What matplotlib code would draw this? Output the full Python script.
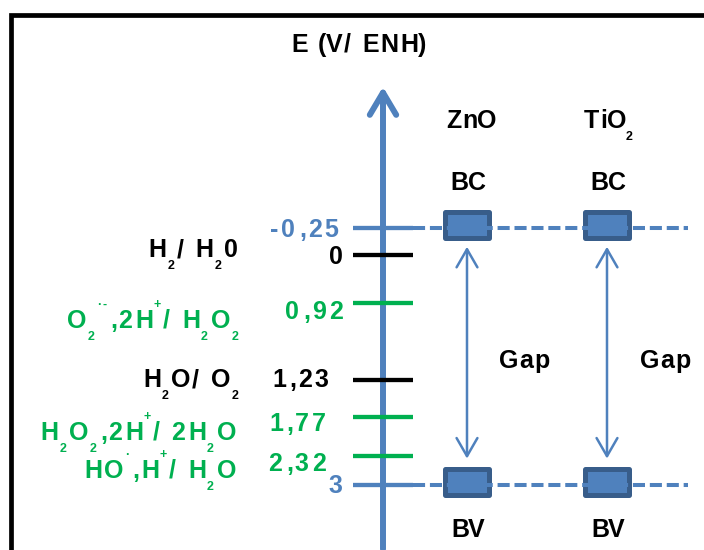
import numpy as np
import matplotlib
matplotlib.use('Agg')
import matplotlib.pyplot as plt
from matplotlib.transforms import Affine2D
from matplotlib.patches import FancyArrowPatch
from matplotlib.path import Path
from matplotlib.font_manager import FontProperties, findfont, get_font

# redox levels, V / ENH
level_values = [-0.25, 0, 0.92, 1.23, 1.77, 2.32, 3]
level_labels = ['-0,25', '0', '0,92', '1,23', '1,77', '2,32', '3']
# couples as (text, kind) pieces: n = normal, sub / sup
couples = [
    None,
    [('H', 'n'), ('2', 'sub'), ('/ H', 'n'), ('2', 'sub'), ('0', 'n')],
    [('O', 'n'), ('2', 'sub'), ('·-', 'sup'), (',2H', 'n'), ('+', 'sup'),
     ('/ H', 'n'), ('2', 'sub'), ('O', 'n'), ('2', 'sub')],
    [('H', 'n'), ('2', 'sub'), ('O/ O', 'n'), ('2', 'sub')],
    [('H', 'n'), ('2', 'sub'), ('O', 'n'), ('2', 'sub'), (',2H', 'n'), ('+', 'sup'),
     ('/ 2H', 'n'), ('2', 'sub'), ('O', 'n')],
    [('HO', 'n'), ('·', 'sup'), (',H', 'n'), ('+', 'sup'), ('/ H', 'n'), ('2', 'sub'), ('O', 'n')],
    None,
]
materials = [[('ZnO', 'n')], [('TiO', 'n'), ('2', 'sub')]]
bc_value = -0.25
bv_value = 3

# schematic (non linear) energy axis
scale_E = [-2.36, -0.25, 0, 0.92, 1.23, 1.77, 2.32, 3, 4.52]
scale_px = [0, 228, 255, 303, 380, 417, 456, 485, 550]

blue = '#4f81bd'
dark = '#385d8a'
green = '#00b050'
level_colors = [blue, 'black', green, 'black', green, green, blue]
label_right = [338, 342, 342, 328, 325, 325, 342]
label_dy = [9, 9, 16, 7, 14, 15, 8]
couple_right = [None, 237, 238, 238, 235, 235, None]
couple_dy = [None, 2, 25, 7, 23, 22, None]
mat_x = [467, 607]
mat_label_x = [470, 608]
gap_label_x = [523, 664]

FP = FontProperties(family='Liberation Sans', weight='bold')
font = get_font(findfont(FP))


def glyph_metrics(ch, size):
    font.set_size(size, 100)
    g = font.load_char(ord(ch))
    return g.linearHoriAdvance / 65536, g.horiBearingX / 64


def spaced(x, y, parts, color, trans, ha='left', size=18, track=0.0):
    chars = []
    for s, kind in parts:
        fs = size if kind == 'n' else 9
        dy = {'n': 0, 'sub': 12, 'sup': -20}[kind]
        for ch in s:
            adv, lsb = glyph_metrics(ch, fs)
            chars.append((ch, fs, dy, adv, lsb))
    total = sum(c[3] for c in chars) + track * (len(chars) - 1)
    pen = {'left': 0, 'center': -total / 2, 'right': -total}[ha]
    for ch, fs, dy, adv, lsb in chars:
        if ch != ' ':
            ax.text(x, y, ch, color=color, fontsize=fs, family='Liberation Sans',
                    weight='bold', ha='left', va='baseline',
                    transform=trans + Affine2D().translate(pen + lsb, -dy))
        pen += adv + track


fig = plt.figure(figsize=(7.04, 5.5), dpi=100)
ax = fig.add_axes([0, 0, 1, 1])
ax.set_xlim(0, 704)
ax.set_yscale('function', functions=(lambda e: np.interp(e, scale_E, scale_px),
                                     lambda p: np.interp(p, scale_px, scale_E)))
ax.set_ylim(scale_E[-1], scale_E[0])
ax.axis('off')

# pixel coordinates, origin top left
pix = Affine2D().scale(1, -1).translate(0, 550)

# frame
ax.plot([10.5, 10.5, 704], [550, 14.5, 14.5], color='black', lw=3.4,
        solid_joinstyle='miter', transform=pix, clip_on=False)

# energy axis
ax.add_patch(FancyArrowPatch((383, 552), (383, 84), transform=pix,
                             arrowstyle='->,head_length=16,head_width=9.5',
                             lw=4.3, color=blue, clip_on=False))
spaced(358, 52, [('E (V/ ENH)', 'n')], 'black', pix, ha='center', track=1.5)

# levels
ax.hlines(level_values, 353, 413, colors=level_colors, lw=3.1)
for i, v in enumerate(level_values):
    spaced(label_right[i], v, [(level_labels[i], 'n')], level_colors[i],
           ax.transData + Affine2D().translate(0, -label_dy[i]), ha='right', track=3)
    if couples[i] is not None:
        spaced(couple_right[i], v, couples[i], level_colors[i],
               ax.transData + Affine2D().translate(0, -couple_dy[i]), ha='right', track=2)

# band edges
rect = Path([(-22, -9.5), (22, -9.5), (22, 15.5), (-22, 15.5), (-22, -9.5)],
            [Path.MOVETO, Path.LINETO, Path.LINETO, Path.LINETO, Path.CLOSEPOLY])
for e in [bc_value, bv_value]:
    ax.plot(mat_x, [e] * len(mat_x), ls='none', marker=rect, ms=31.7,
            mfc=blue, mec=dark, mew=3.6, zorder=3)
    ax.plot([413, 688], [e, e], color=blue, lw=2.9, ls=(0, (3, 1.2)), zorder=4)

for i, x in enumerate(mat_x):
    spaced(mat_label_x[i], 128, materials[i], 'black', pix, ha='center')
    spaced(x, bc_value, [('BC', 'n')], 'black',
           ax.transData + Affine2D().translate(0, 38), ha='center')
    spaced(x, bv_value, [('BV', 'n')], 'black',
           ax.transData + Affine2D().translate(0, -52), ha='center')
    ax.add_patch(FancyArrowPatch((x, bc_value), (x, bv_value),
                                 arrowstyle='<->,head_length=13,head_width=7.5',
                                 shrinkA=13.5, shrinkB=19, lw=1.8, color=blue))
    spaced(gap_label_x[i], 368, [('Gap', 'n')], 'black', pix, ha='center', track=0.5)

fig.savefig('out.png', dpi=100)
